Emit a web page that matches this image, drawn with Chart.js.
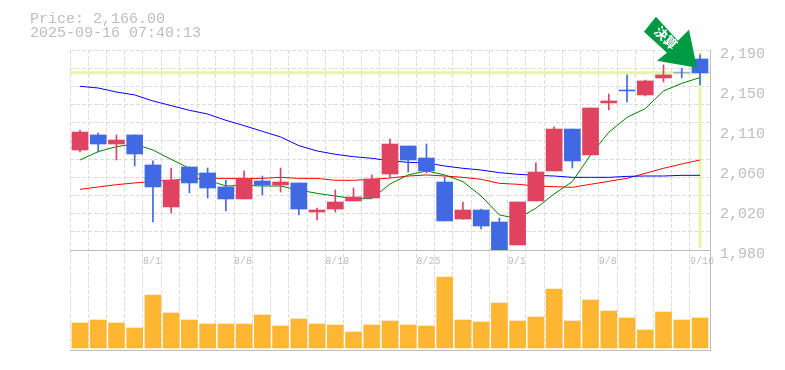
<!DOCTYPE html>
<html>
<head>
<meta charset="utf-8">
<style>
html, body { margin: 0; padding: 0; background: #fff; }
canvas { display: block; }
</style>
<script src="https://cdn.jsdelivr.net/npm/chart.js@4"></script>
</head>
<body>
<canvas id="chart" width="785" height="370"></canvas>
<script>
const dates = [
    "7/28", "7/29", "7/30", "7/31", "8/1", "8/4", "8/5", "8/6", "8/7", "8/8",
    "8/12", "8/13", "8/14", "8/15", "8/18", "8/19", "8/20", "8/21", "8/22", "8/25",
    "8/26", "8/27", "8/28", "8/29", "9/1", "9/2", "9/3", "9/4", "9/5", "9/8",
    "9/9", "9/10", "9/11", "9/12", "9/16"
];
const shownDates = ["8/1", "8/8", "8/18", "8/25", "9/1", "9/8", "9/16"];
const opens = [
    2085, 2100.8, 2091.3, 2100.8, 2069.3, 2025.2, 2067.2, 2060.9, 2046.2, 2033.6,
    2052.5, 2048.3, 2050.4, 2019.9, 2023, 2031.5, 2034.6, 2059.8, 2089.2, 2076.6,
    2051.4, 2012.5, 2022, 2009.4, 1985.3, 2031.5, 2063, 2107, 2079.8, 2134.4,
    2148, 2142.8, 2160.6, 2166, 2180.6
];
const closes = [
    2103.9, 2091.3, 2095.5, 2080.8, 2046.2, 2053.5, 2050.4, 2045.1, 2033.6, 2054.6,
    2048.3, 2051.4, 2023, 2022, 2030.4, 2035.7, 2054.6, 2091.3, 2074.5, 2063,
    2010.5, 2022, 2005.2, 1980, 2030.4, 2061.9, 2107, 2073.5, 2129.1, 2136.5,
    2147, 2157.5, 2163.8, 2166, 2166
];
const highs = [
    2106, 2102.9, 2100.8, 2100.8, 2073.5, 2066.1, 2067.2, 2066.1, 2053.5, 2063,
    2057.7, 2066.1, 2050.4, 2024.1, 2043, 2045.1, 2058.8, 2096.5, 2089.2, 2091.3,
    2056.7, 2030.4, 2023, 2013.6, 2030.4, 2071.4, 2109.2, 2107, 2129.1, 2143.8,
    2163.8, 2158.5, 2174.3, 2170.8, 2184.8
];
const lows = [
    2082.9, 2082.9, 2074.5, 2068.2, 2009.4, 2018.9, 2039.9, 2034.6, 2021, 2033.6,
    2037.8, 2040.9, 2016.8, 2011.5, 2019.9, 2031.5, 2034.6, 2056.7, 2061.9, 2060.9,
    2010.5, 2012.5, 2002.1, 1980, 1985.3, 2031.5, 2063, 2066.1, 2079.8, 2127,
    2135.4, 2141.7, 2156.4, 2160.6, 2153.3
];
const greenLine = [
    2074.5, 2083.3, 2088.5, 2091.3, 2085, 2075.2, 2065.8, 2053.5, 2047.2, 2047.9,
    2047.2, 2047.2, 2043, 2039.5, 2036.7, 2033.9, 2033.9, 2049.3, 2058.8, 2063,
    2058.8, 2051.8, 2036.7, 2016.8, 2013, 2023.8, 2038.8, 2051.8, 2079.8, 2103.6,
    2119.3, 2128.4, 2147, 2155, 2161
];
const redLine = [
    2043.7, 2046.2, 2048.6, 2050.4, 2052.1, 2053.2, 2054.2, 2055.2, 2055.2, 2055.2,
    2055.2, 2056.3, 2055.2, 2055.2, 2053.2, 2053.2, 2054.2, 2055.6, 2057.7, 2058.8,
    2057.7, 2056.3, 2054.2, 2050, 2049, 2047.2, 2046.5, 2045.8, 2049, 2052.1,
    2055.3, 2060.5, 2065.8, 2070.3, 2074.5
];
const blueLine = [
    2151.9, 2150.1, 2145.9, 2142.8, 2136.5, 2131.6, 2126.7, 2122.8, 2116.2, 2110.6,
    2104.6, 2098.7, 2089.6, 2084, 2080.5, 2078, 2076.3, 2073.8, 2072, 2071.4,
    2068.2, 2065.8, 2064, 2061.2, 2059.5, 2058.4, 2057.7, 2056.3, 2056.3, 2056.3,
    2057.3, 2057.7, 2057.7, 2058.4, 2058.4
];
const volumes = [
    250, 280, 250, 200, 530, 350, 280, 240, 240, 240,
    330, 220, 290, 240, 230, 160, 230, 270, 230, 220,
    710, 280, 260, 450, 270, 310, 590, 270, 480, 370,
    300, 180, 360, 280, 300
];
const yTickValues = [1980, 2022, 2064, 2106, 2148, 2190];
const yTickLabels = ["1,980", "2,020", "2,060", "2,110", "2,150", "2,190"];
const yGridCount = 11;
const lastPrice = 2166;
const titleLines = ["Price: 2,166.00", "2025-09-16 07:40:13"];
const arrowLabel = "決算";

const textGray = "#bdbdbd";
const gridGray = "#dcdcdc";
const axisGray = "#bdbdbd";
const upColor = "#e0435f";
const downColor = "#4169e1";
const highlight = "#e4f5aa";
const monoFont = "'Liberation Mono', monospace";

const xMin = -0.548;
const xMax = 34.55;
const isUp = (i) => closes[i] > opens[i];
const candleColors = opens.map((o, i) => (isUp(i) ? upColor : downColor));
const series = (arr) => arr.map((y, x) => ({ x, y }));

// header text and the green arrow that sits on the last candle
const extras = {
    id: "extras",
    afterDatasetsDraw(chart) {
        const { ctx, scales } = chart;
        ctx.save();
        ctx.fillStyle = textGray;
        ctx.font = "15px " + monoFont;
        ctx.textBaseline = "middle";
        ctx.textAlign = "left";
        titleLines.forEach((t, i) => ctx.fillText(t, 30, 19 + i * 14));

        const tipX = scales.x.getPixelForValue(closes.length - 1) - 3;
        const tipY = scales.y.getPixelForValue(lastPrice) - 5;
        ctx.translate(tipX, tipY);
        ctx.fillStyle = "#009944";
        ctx.beginPath();
        ctx.moveTo(0, 0);
        ctx.lineTo(-8, -38);
        ctx.lineTo(-19, -27);
        ctx.lineTo(-41, -51);
        ctx.lineTo(-53, -36);
        ctx.lineTo(-30, -15);
        ctx.lineTo(-40, -7);
        ctx.closePath();
        ctx.fill();
        ctx.translate(-31, -30);
        ctx.rotate(Math.PI / 4);
        ctx.fillStyle = "#fff";
        ctx.font = "bold 13px 'Noto Sans CJK JP'";
        ctx.textAlign = "center";
        ctx.fillText(arrowLabel, 0, 0);
        ctx.restore();
    }
};

new Chart(document.getElementById("chart"), {
    type: "bar",
    data: {
        datasets: [
            {
                type: "line",
                data: [{ x: xMin, y: lastPrice }, { x: xMax, y: lastPrice }],
                borderColor: highlight,
                borderWidth: 3,
                pointRadius: 0,
                yAxisID: "y",
                order: 10
            },
            {
                type: "line",
                data: [{ x: closes.length - 1, y: 1982 }, { x: closes.length - 1, y: 2188 }],
                borderColor: highlight,
                borderWidth: 3,
                pointRadius: 0,
                yAxisID: "y",
                order: 10
            },
            {
                type: "line",
                data: series(blueLine),
                borderColor: "#0000ff",
                borderWidth: 1,
                pointRadius: 0,
                yAxisID: "y",
                order: 6
            },
            {
                type: "line",
                data: series(redLine),
                borderColor: "#ff0000",
                borderWidth: 1,
                pointRadius: 0,
                yAxisID: "y",
                order: 7
            },
            {
                type: "line",
                data: series(greenLine),
                borderColor: "#008000",
                borderWidth: 1,
                pointRadius: 0,
                yAxisID: "y",
                order: 5
            },
            {
                data: lows.map((l, x) => ({ x, y: [l, highs[x]] })),
                backgroundColor: candleColors,
                barThickness: 1,
                grouped: false,
                yAxisID: "y",
                order: 2
            },
            {
                data: opens.map((o, x) => ({ x, y: [o, closes[x]] })),
                backgroundColor: candleColors,
                barThickness: 16,
                grouped: false,
                yAxisID: "y",
                order: 1
            },
            {
                data: series(volumes),
                backgroundColor: "#ffb733",
                barThickness: 16,
                grouped: false,
                yAxisID: "y1",
                order: 3
            }
        ]
    },
    options: {
        responsive: false,
        animation: false,
        layout: { padding: { left: 70, top: 50, bottom: 20, right: 0 } },
        plugins: {
            legend: { display: false },
            tooltip: { enabled: false }
        },
        scales: {
            x: {
                type: "linear",
                offset: false,
                position: { y: 1980 },
                min: xMin,
                max: xMax,
                afterBuildTicks: (scale) => {
                    scale.ticks = dates.map((d, i) => ({ value: i + xMin }));
                },
                grid: { offset: false, color: gridGray, drawTicks: false },
                border: { color: axisGray, dash: (ctx) => (ctx.tick ? [4, 2] : []) },
                ticks: {
                    autoSkip: false,
                    maxRotation: 0,
                    align: "start",
                    padding: 5,
                    color: textGray,
                    font: { family: monoFont, size: 10 },
                    callback: (value, i) => (shownDates.includes(dates[i]) ? dates[i] : "")
                }
            },
            y: {
                position: "right",
                stack: "panels",
                stackWeight: 2,
                min: 1980,
                max: 2190,
                afterFit: (scale) => { scale.width = 75; },
                afterBuildTicks: (scale) => {
                    const gridTicks = [];
                    for (let k = 0; k <= yGridCount; k++) {
                        gridTicks.push({ value: 1980 + (210 / yGridCount) * k, grid: true });
                    }
                    scale.ticks = gridTicks.concat(
                        yTickValues.slice(1, 5).map((value) => ({ value }))
                    );
                },
                grid: {
                    drawTicks: false,
                    color: (ctx) => (ctx.tick && ctx.tick.grid ? gridGray : "rgba(0,0,0,0)")
                },
                border: { color: axisGray, dash: (ctx) => (ctx.tick ? [4, 2] : []) },
                ticks: {
                    autoSkip: false,
                    padding: 10,
                    labelOffset: 4,
                    color: textGray,
                    font: { family: monoFont, size: 15 },
                    callback: (value) => {
                        const i = yTickValues.findIndex((v) => Math.abs(v - value) < 0.01);
                        return i < 0 ? "" : yTickLabels[i];
                    }
                }
            },
            y1: {
                position: "right",
                stack: "panels",
                stackWeight: 1,
                min: -20,
                max: 980,
                afterFit: (scale) => { scale.width = 75; },
                afterBuildTicks: (scale) => { scale.ticks = [{ value: -20 }]; },
                grid: { color: axisGray, drawTicks: false },
                border: { color: axisGray },
                ticks: { display: false }
            }
        }
    },
    plugins: [extras]
});
</script>
</body>
</html>
